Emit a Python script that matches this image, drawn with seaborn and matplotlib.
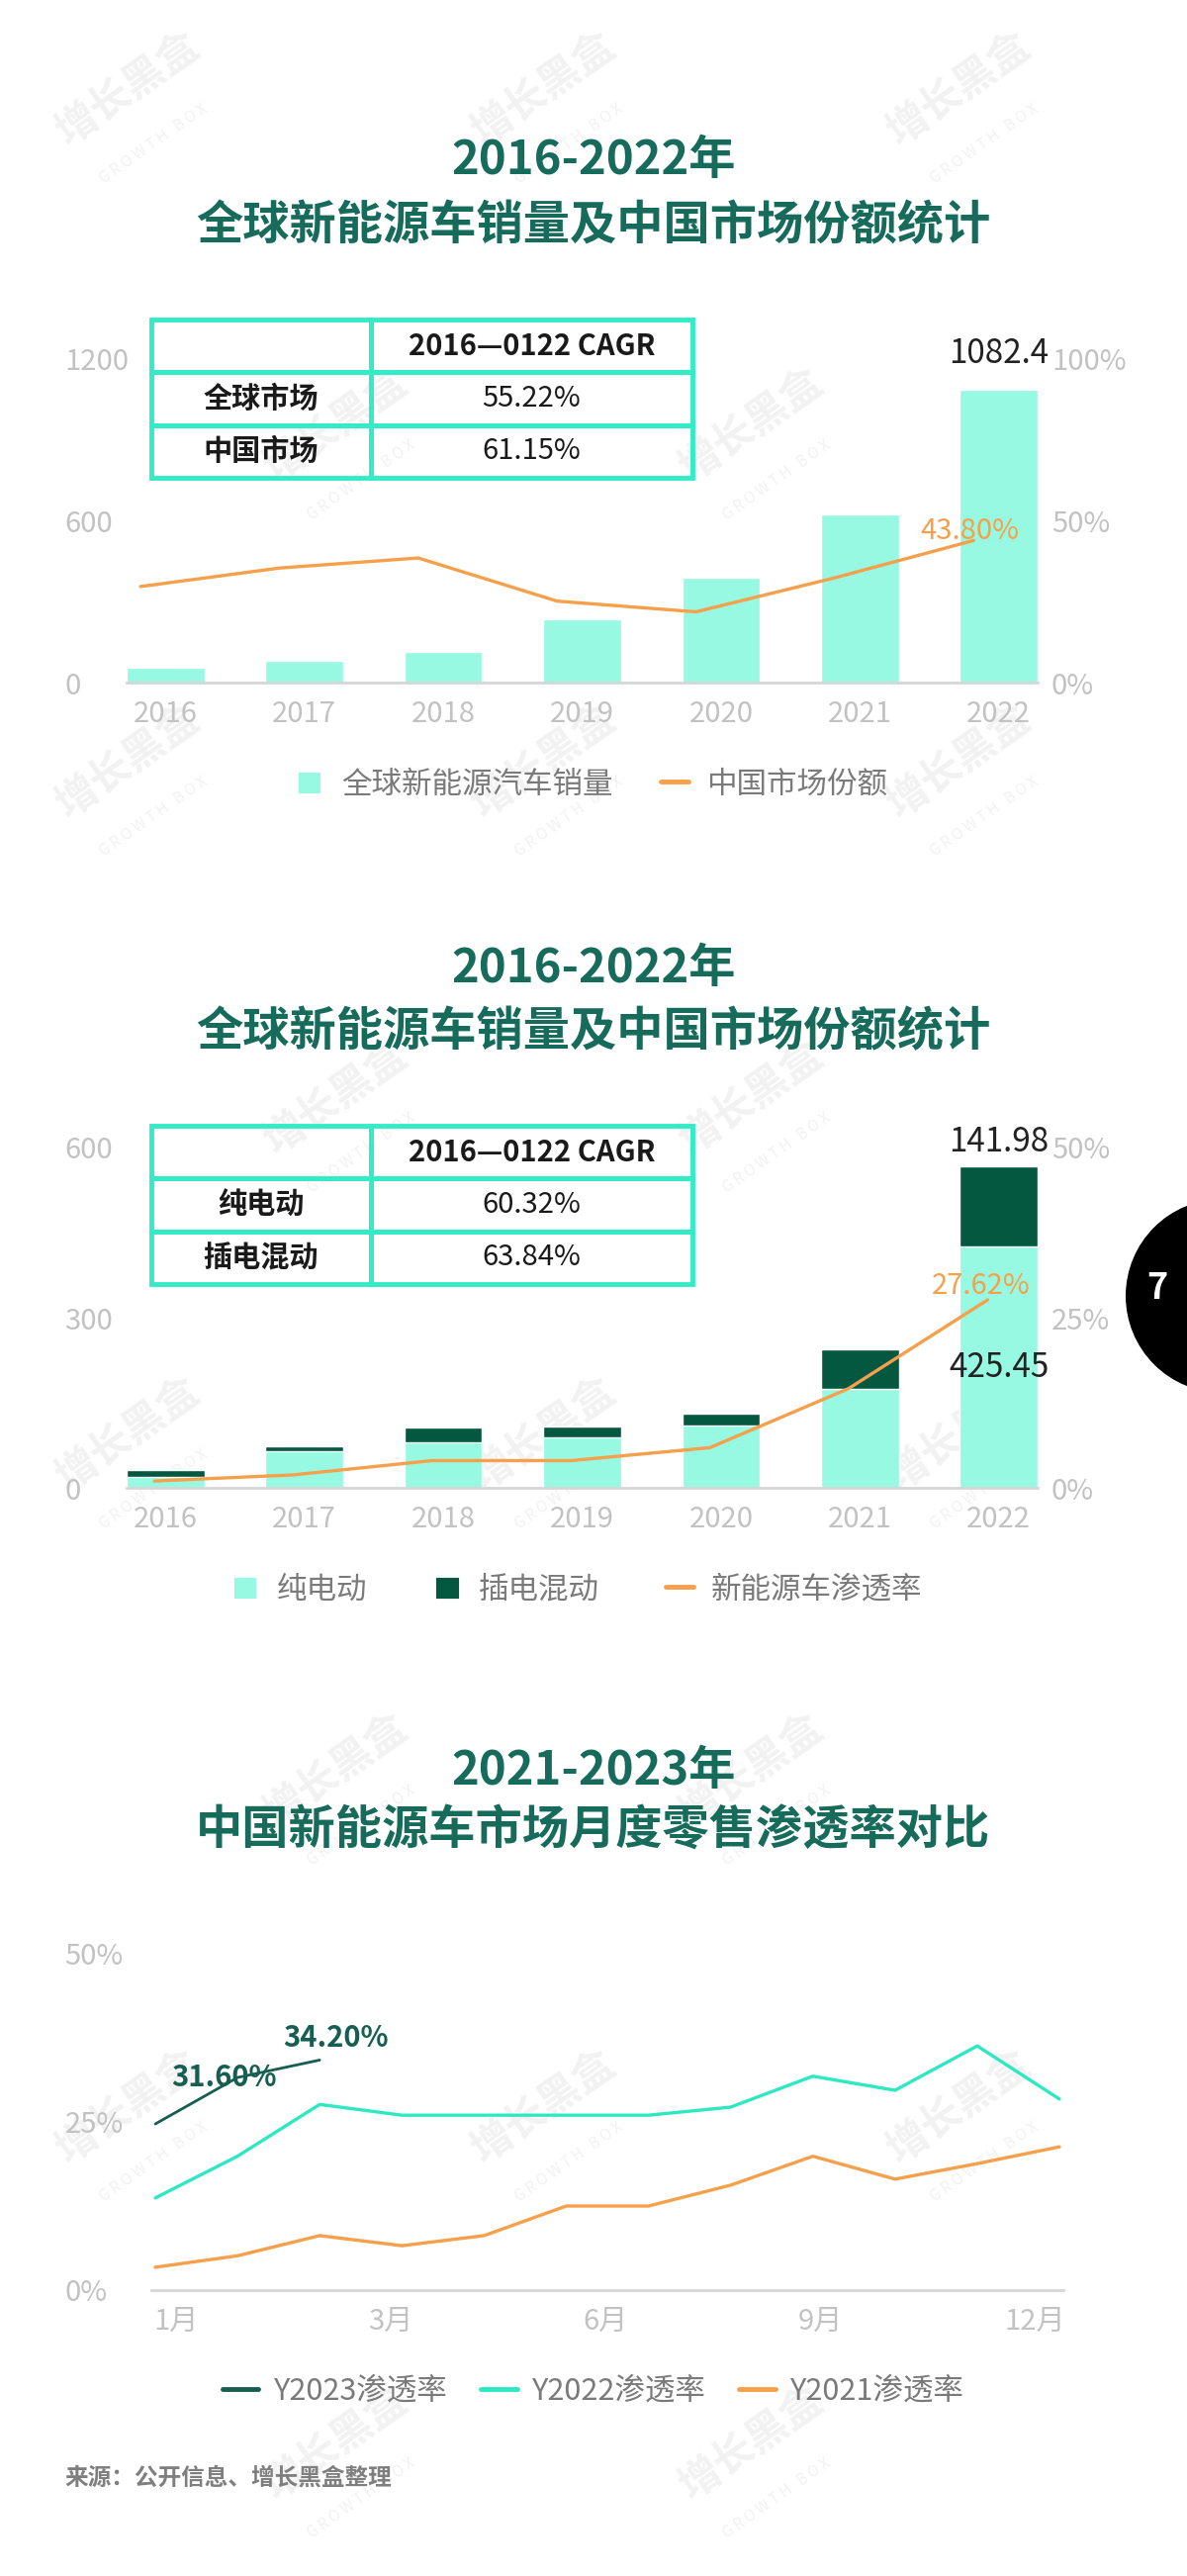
import numpy as np
import pandas as pd
import matplotlib
matplotlib.use('Agg')
import matplotlib.pyplot as plt
import seaborn as sns
from matplotlib.patches import Ellipse

# ---- 数据 ----
years = ['2016', '2017', '2018', '2019', '2020', '2021', '2022']
global_sales = [55, 81, 115, 233, 388, 622, 1082.4]        # 全球新能源汽车销量
china_share = [29.6, 35.3, 38.4, 25.1, 21.8, 32.3, 43.8]    # 中国市场份额 %
cagr1_rows = ['全球市场', '中国市场']
cagr1_vals = ['55.22%', '61.15%']

bev_sales = [20, 65, 81, 89, 110, 174, 425.45]     # 纯电动
phev_sales = [12, 8, 25, 20, 20, 70, 141.98]       # 插电混动
nev_rate = [1.0, 1.9, 4.0, 4.0, 5.9, 14.6, 27.62]  # 新能源车渗透率 %
cagr2_rows = ['纯电动', '插电混动']
cagr2_vals = ['60.32%', '63.84%']

months = list(range(1, 13))
month_labels = ['1月', '3月', '6月', '9月', '12月']
y2023 = [24.7, 31.6, 34.2]
y2022 = [13.7, 19.9, 27.6, 26.0, 26.0, 26.0, 26.0, 27.2, 31.8, 29.7, 36.3, 28.4]
y2021 = [3.4, 5.1, 8.1, 6.6, 8.1, 12.5, 12.5, 15.6, 19.9, 16.5, 18.8, 21.3]

# ---- 颜色 ----
MINT = '#97f9e2'
DARK = '#03583f'
ORANGE = '#f7a04c'
TEAL = '#2ee8c2'
DEEP = '#155e51'
TITLE = '#176b5b'
BASE = '#d6d6d6'
TICK = '#c2c2c2'
LEG = '#7a7a7a'
BORDER = '#33ebc6'

sns.set_theme(style='white')
plt.rcParams['font.family'] = ['Noto Sans CJK SC', 'DejaVu Sans']
plt.rcParams['axes.unicode_minus'] = False

W, H = 1200, 2604
fig = plt.figure(figsize=(W / 100, H / 100), dpi=100)
fig.patch.set_facecolor('white')


def fy(px):
    return 1 - px / H


def box(left, top, right, bottom):
    return [left / W, 1 - bottom / H, (right - left) / W, (bottom - top) / H]


# 水印（只放在画面内部）
for i in range(8):
    for j in range(4):
        x = 130 + j * 420 + (i % 2) * 210
        y = 90 + i * 340
        if x > 1080 or y > 2520:
            continue
        fig.text(x / W, fy(y), '增长黑盒', fontsize=30, color='#f2f2f2', rotation=35,
                 ha='center', va='center', zorder=-5, fontweight='bold')
        fig.text((x + 25) / W, fy(y + 55), 'G R O W T H   B O X', fontsize=11, color='#f2f2f2',
                 rotation=35, ha='center', va='center', zorder=-5)


def title(y1, y2, t1, t2):
    fig.text(0.5, fy(y1), t1, ha='center', va='center', fontsize=34, fontweight='bold', color=TITLE)
    fig.text(0.5, fy(y2), t2, ha='center', va='center', fontsize=34, fontweight='bold', color=TITLE)


def drop_legend(ax):
    if ax.get_legend() is not None:
        ax.get_legend().remove()


def style_main(ax, pad):
    ax.set_facecolor('none')
    for s in ['top', 'right', 'left']:
        ax.spines[s].set_visible(False)
    ax.spines['bottom'].set_color(BASE)
    ax.spines['bottom'].set_linewidth(2)
    ax.set_xlabel('')
    ax.set_ylabel('')
    ax.tick_params(length=0, labelsize=21, labelcolor=TICK)
    ax.tick_params(axis='y', pad=pad)
    ax.tick_params(axis='x', pad=12)
    for t in ax.get_yticklabels():
        t.set_ha('left')
        t.set_fontweight('light')
    for t in ax.get_xticklabels():
        t.set_fontweight('light')


def style_twin(ax):
    ax.set_facecolor('none')
    for s in ax.spines.values():
        s.set_visible(False)
    ax.set_ylabel('')
    ax.tick_params(length=0, labelsize=21, labelcolor=TICK, pad=10)
    for t in ax.get_yticklabels():
        t.set_fontweight('light')


def cagr_table(top, rows, vals):
    tax = fig.add_axes(box(153, top, 700, top + 160), zorder=5)
    tax.axis('off')
    cells = [['', '2016—0122 CAGR']] + [[r, v] for r, v in zip(rows, vals)]
    tb = tax.table(cellText=cells, cellLoc='center', colWidths=[0.406, 0.594], bbox=[0, 0, 1, 1])
    tb.auto_set_font_size(False)
    tb.set_fontsize(21)
    for (r, c), cell in tb.get_celld().items():
        cell.set_edgecolor(BORDER)
        cell.set_linewidth(3.5)
        cell.set_facecolor('none')
        cell.get_text().set_color('#1a1a1a')
        if r == 0 or c == 0:
            cell.get_text().set_fontweight('bold')


# ================= 图1 =================
title(162, 228, '2016-2022年', '全球新能源车销量及中国市场份额统计')
ax1 = fig.add_axes(box(128, 362, 1049, 690))
df1 = pd.DataFrame({'year': years, 'sales': global_sales})
sns.barplot(data=df1, x='year', y='sales', color=MINT, width=0.56, saturation=1,
            ax=ax1, label='全球新能源汽车销量')
drop_legend(ax1)
ax1.set_ylim(0, 1200)
ax1.set_yticks([0, 600, 1200])
ax1.set_yticklabels(['0', '600', '1200'])
ax1.annotate(f'{global_sales[-1]}', xy=(6, global_sales[-1]), xytext=(0, 14),
             textcoords='offset points', ha='center', va='bottom', fontsize=24, color='#222222')

ax1b = ax1.twinx()
sns.lineplot(x=np.arange(len(years)) - 0.18, y=china_share, color=ORANGE, lw=2.4,
             ax=ax1b, label='中国市场份额')
drop_legend(ax1b)
ax1b.set_ylim(0, 100)
ax1b.set_yticks([0, 50, 100])
ax1b.set_yticklabels(['0%', '50%', '100%'])
ax1b.annotate(f'{china_share[-1]:.2f}%', xy=(6 - 0.18, china_share[-1]), xytext=(-3, 1),
              textcoords='offset points', ha='center', va='baseline', fontsize=21, color=ORANGE)
ax1.set_xlim(-0.28, 6.28)
style_main(ax1, 45)
style_twin(ax1b)
cagr_table(323, cagr1_rows, cagr1_vals)

h1, l1 = ax1.get_legend_handles_labels()
h2, l2 = ax1b.get_legend_handles_labels()
leg = fig.legend(h1 + h2, l1 + l2, loc='center', bbox_to_anchor=(598 / W, fy(793)), ncol=2,
                 frameon=False, fontsize=22, handlelength=0.9, handleheight=0.9,
                 handletextpad=0.6, columnspacing=1.6, labelcolor=LEG)
for lh in leg.legend_handles:
    if hasattr(lh, 'set_linewidth'):
        lh.set_linewidth(3.5)

# ================= 图2 =================
title(979, 1043, '2016-2022年', '全球新能源车销量及中国市场份额统计')
ax2 = fig.add_axes(box(128, 1160, 1049, 1504))
total = [b + p for b, p in zip(bev_sales, phev_sales)]
df2 = pd.DataFrame({'year': years, 'bev': bev_sales, 'total': total})
sns.barplot(data=df2, x='year', y='total', color=DARK, width=0.56, saturation=1,
            ax=ax2, label='插电混动')
sns.barplot(data=df2, x='year', y='bev', color=MINT, width=0.56, saturation=1,
            ax=ax2, label='纯电动')
drop_legend(ax2)
ax2.set_ylim(0, 600)
ax2.set_yticks([0, 300, 600])
ax2.set_yticklabels(['0', '300', '600'])
ax2.annotate(f'{phev_sales[-1]}', xy=(6, total[-1]), xytext=(0, 5),
             textcoords='offset points', ha='center', va='bottom', fontsize=24, color='#222222')
ax2.annotate(f'{bev_sales[-1]}', xy=(6, bev_sales[-1] / 2), ha='center', va='center',
             fontsize=24, color='#222222')

ax2b = ax2.twinx()
sns.lineplot(x=np.arange(len(years)) - 0.08, y=nev_rate, color=ORANGE, lw=2.4,
             ax=ax2b, label='新能源车渗透率')
drop_legend(ax2b)
ax2b.set_ylim(0, 50)
ax2b.set_yticks([0, 25, 50])
ax2b.set_yticklabels(['0%', '25%', '50%'])
ax2b.annotate(f'{nev_rate[-1]:.2f}%', xy=(6 - 0.08, nev_rate[-1]), xytext=(-5, 4),
              textcoords='offset points', ha='center', va='baseline', fontsize=21, color=ORANGE)
ax2.set_xlim(-0.28, 6.28)
style_main(ax2, 45)
style_twin(ax2b)
cagr_table(1138, cagr2_rows, cagr2_vals)

h1, l1 = ax2.get_legend_handles_labels()
h2, l2 = ax2b.get_legend_handles_labels()
handles = [h1[1], h1[0]] + h2
labels = [l1[1], l1[0]] + l2
leg = fig.legend(handles, labels, loc='center', bbox_to_anchor=(583 / W, fy(1607)), ncol=3,
                 frameon=False, fontsize=22, handlelength=0.9, handleheight=0.9,
                 handletextpad=0.6, columnspacing=2.2, labelcolor=LEG)
for lh in leg.legend_handles:
    if hasattr(lh, 'set_linewidth'):
        lh.set_linewidth(3.5)

# 页码
fig.add_artist(Ellipse((1236 / W, fy(1310)), 196 / W, 196 / H, transform=fig.transFigure,
                       facecolor='black', edgecolor='none', zorder=10))
fig.text(1170 / W, fy(1303), '7', ha='center', va='center', fontsize=26, fontweight='bold',
         color='white', zorder=11)

# ================= 图3 =================
title(1790, 1851, '2021-2023年', '中国新能源车市场月度零售渗透率对比')
ax3 = fig.add_axes(box(153, 1975, 1075, 2315))
sns.lineplot(x=months[:len(y2023)], y=y2023, color=DEEP, lw=2.0, ax=ax3, label='Y2023渗透率')
sns.lineplot(x=months, y=y2022, color=TEAL, lw=2.4, ax=ax3, label='Y2022渗透率')
sns.lineplot(x=months, y=y2021, color=ORANGE, lw=2.4, ax=ax3, label='Y2021渗透率')
drop_legend(ax3)
ax3.set_xlim(0.952, 12.048)
ax3.set_ylim(0, 50)
ax3.set_yticks([0, 25, 50])
ax3.set_yticklabels(['0%', '25%', '50%'])
ax3.set_xticks(np.linspace(1.25, 11.7, len(month_labels)))
ax3.set_xticklabels(month_labels)
ax3.annotate(f'{y2023[1]:.2f}%', xy=(2, y2023[1]), xytext=(-10, 0), textcoords='offset points',
             ha='center', va='center', fontsize=21, fontweight='bold', color=DEEP)
ax3.annotate(f'{y2023[2]:.2f}%', xy=(3, y2023[2]), xytext=(12, 16), textcoords='offset points',
             ha='center', va='center', fontsize=21, fontweight='bold', color=DEEP)
style_main(ax3, 63)

h3, l3 = ax3.get_legend_handles_labels()
leg = fig.legend(h3, l3, loc='center', bbox_to_anchor=(600 / W, fy(2417)), ncol=3,
                 frameon=False, fontsize=22, handlelength=1.2, handletextpad=0.5,
                 columnspacing=1.1, labelcolor=LEG)
for lh in leg.legend_handles:
    lh.set_linewidth(3.5)

fig.text(65 / W, fy(2505), '来源：公开信息、增长黑盒整理', ha='left', va='center',
         fontsize=17, fontweight='bold', color='#7f7f7f')

fig.savefig('out.png', dpi=100, facecolor='white')
